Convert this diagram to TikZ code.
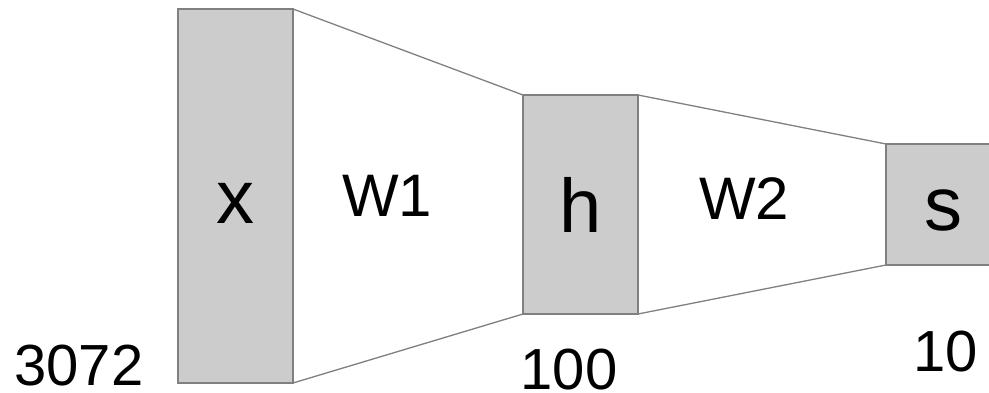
\documentclass[tikz,border=0pt]{standalone}
\usepackage{fontspec}
\setmainfont{Liberation Sans}
\begin{document}
\begin{tikzpicture}[x=1pt,y=-1pt,
  layer/.style={draw=black!50,fill=black!20,line width=1.8pt},
  link/.style={draw=black!50,line width=1.3pt},
  big/.style={font=\fontsize{76}{76}\selectfont,anchor=base,inner sep=0pt},
  mid/.style={font=\fontsize{60}{60}\selectfont,anchor=base,inner sep=0pt},
  num/.style={font=\fontsize{58}{58}\selectfont,anchor=base,inner sep=0pt}]
\useasboundingbox (0,0) rectangle (989,393);
\begin{scope}
\clip (0,0) rectangle (989,393);
\draw[layer] (178,9) rectangle (293,383);
\draw[layer] (523,95) rectangle (638,314);
\draw[layer] (886,144) rectangle (1000,265);
\end{scope}
\coordinate (xtr) at (293,9);
\coordinate (xbr) at (293,383);
\coordinate (htl) at (523,95);
\coordinate (hbl) at (523,314);
\coordinate (htr) at (638,95);
\coordinate (hbr) at (638,314);
\coordinate (stl) at (886,144);
\coordinate (sbl) at (886,265);
\draw[link] (xtr) -- (htl);
\draw[link] (xbr) -- (hbl);
\draw[link] (htr) -- (stl);
\draw[link] (hbr) -- (sbl);
\node[big] (lx) at (235,223) {x};
\node[big] (lh) at (581,233) {h};
\node[big] (ls) at (943,230) {s};
\node[mid] (w1) at (387,217) {W1};
\node[mid] (w2) at (744,219) {W2};
\node[num] (n1) at (79,385) {3072};
\node[num] (n2) at (569,389) {100};
\node[num] (n3) at (946,371) {10};
\end{tikzpicture}
\end{document}
